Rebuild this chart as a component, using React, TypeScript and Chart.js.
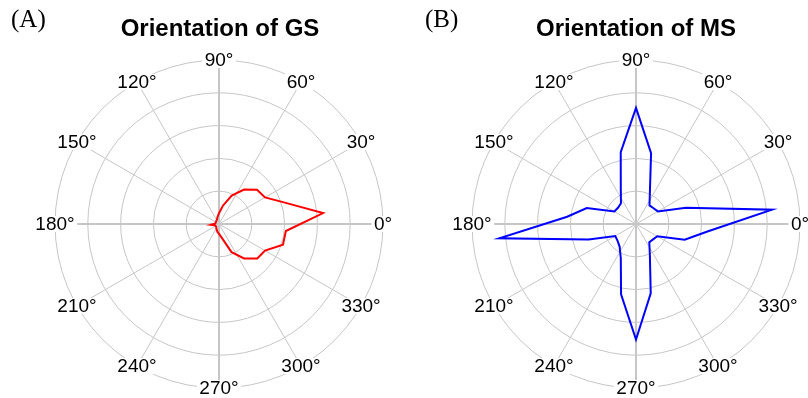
import React, { useEffect, useRef } from 'react';
import { Chart, registerables } from 'chart.js';

Chart.register(...registerables);

// Bin centres (degrees, counter-clockwise from the +x axis)
const binAngles = [6, 18, 30, 42, 54, 66, 78, 90, 102, 114, 126, 138, 150, 162, 174, 186, 198, 210, 222, 234, 246, 258, 270, 282, 294, 306, 318, 330, 342, 354];

// Radial values per bin (in ring units, outer ring = 5)
const gsValues = [3.19, 2.11, 1.62, 1.56, 1.3, 0.95, 0.57, 0.33, 0.22, 0.15, 0.13, 0.12, 0.11, 0.11, 0.12, 0.25, 0.13, 0.12, 0.12, 0.14, 0.18, 0.24, 0.3, 0.44, 0.94, 1.3, 1.57, 1.62, 2.05, 2.05];
const msValues = [4.17, 1.6, 0.77, 0.72, 0.7, 1.04, 2.21, 3.54, 2.24, 1.14, 0.78, 0.74, 0.76, 1.58, 2.11, 4.19, 1.52, 0.73, 0.76, 0.85, 1.14, 2.19, 3.52, 2.16, 1.04, 0.69, 0.7, 0.75, 1.56, 2.19];

// Angular grid labels
const spokeAngles = [0, 30, 60, 90, 120, 150, 180, 210, 240, 270, 300, 330];
const spokeLabels = ['0°', '30°', '60°', '90°', '120°', '150°', '180°', '210°', '240°', '270°', '300°', '330°'];

const R_MAX = 5;
const STEP = 6; // angular resolution of the radar category axis
const N_CAT = 360 / STEP;
const GRID = '#c6c6c6';

function buildSeries(values: number[]) {
  const labels: string[] = [];
  const data: (number | null)[] = [];
  for (let i = 0; i < N_CAT; i++) {
    const theta = (((90 - STEP * i) % 360) + 360) % 360;
    labels.push(String(theta));
    const b = binAngles.indexOf(theta);
    data.push(b >= 0 ? values[b] : null);
  }
  return { labels, data };
}

const angleLabelPlugin = {
  id: 'angleLabels',
  afterDraw(chart: any) {
    const scale = chart.scales.r;
    const ctx = chart.ctx;
    ctx.save();
    ctx.font = '19px "Liberation Sans", Arial, sans-serif';
    ctx.textAlign = 'center';
    ctx.textBaseline = 'middle';
    spokeAngles.forEach((a, k) => {
      const idx = ((((90 - a) / STEP) % N_CAT) + N_CAT) % N_CAT;
      const p = scale.getPointPosition(idx, scale.drawingArea);
      const text = spokeLabels[k];
      const w = ctx.measureText(text).width;
      ctx.fillStyle = '#ffffff';
      ctx.fillRect(p.x - w / 2 - 2.5, p.y - 8, w + 5, 16);
      ctx.fillStyle = '#000000';
      ctx.fillText(text, p.x, p.y + 1);
    });
    ctx.restore();
  },
};

function PolarPanel(props: { values: number[]; color: string; left: number; padLeft: number; padRight: number }) {
  const ref = useRef<HTMLCanvasElement | null>(null);
  useEffect(() => {
    if (!ref.current) return;
    const { labels, data } = buildSeries(props.values);
    const chart = new Chart(ref.current, {
      type: 'radar',
      data: {
        labels,
        datasets: [
          {
            data,
            borderColor: props.color,
            borderWidth: 2,
            pointRadius: 0,
            pointHoverRadius: 0,
            fill: false,
            spanGaps: true,
            tension: 0,
          } as any,
        ],
      },
      options: {
        responsive: false,
        animation: false,
        layout: { padding: { left: props.padLeft, right: props.padRight, top: 60, bottom: 10 } },
        plugins: { legend: { display: false }, tooltip: { enabled: false }, title: { display: false } },
        scales: {
          r: {
            min: 0,
            max: R_MAX,
            startAngle: 0,
            ticks: { display: false, stepSize: 1 },
            grid: { circular: true, color: GRID, lineWidth: 1 },
            angleLines: {
              display: true,
              lineWidth: (c: any) => (c.index % 15 === 0 ? 2 : 1),
              color: (c: any) => (c.index % 5 === 0 ? GRID : 'rgba(0,0,0,0)'),
            },
            pointLabels: { display: false },
          },
        },
      } as any,
      plugins: [angleLabelPlugin],
    });
    return () => chart.destroy();
  }, []);
  return (
    <canvas
      ref={ref}
      width={404}
      height={398}
      style={{ position: 'absolute', left: props.left, top: 0, width: 404, height: 398 }}
    />
  );
}

const titleStyle: React.CSSProperties = {
  position: 'absolute',
  top: 16,
  width: 300,
  textAlign: 'center',
  font: 'bold 24px "Liberation Sans", Arial, sans-serif',
  lineHeight: '24px',
  color: '#000',
  whiteSpace: 'nowrap',
};

const tagStyle: React.CSSProperties = {
  position: 'absolute',
  top: 6,
  font: '25px "Liberation Serif", "Times New Roman", serif',
  lineHeight: '25px',
  color: '#000',
};

export default function App() {
  return (
    <div style={{ position: 'absolute', left: 0, top: 0, width: 808, height: 398, background: '#fff', overflow: 'hidden' }}>
      <PolarPanel values={gsValues} color="#ff0000" left={0} padLeft={55} padRight={20} />
      <PolarPanel values={msValues} color="#0000ff" left={404} padLeft={68} padRight={7} />
      <div style={{ ...tagStyle, left: 11 }}>(A)</div>
      <div style={{ ...tagStyle, left: 425 }}>(B)</div>
      <div style={{ ...titleStyle, left: 70 }}>Orientation of GS</div>
      <div style={{ ...titleStyle, left: 486 }}>Orientation of MS</div>
    </div>
  );
}
